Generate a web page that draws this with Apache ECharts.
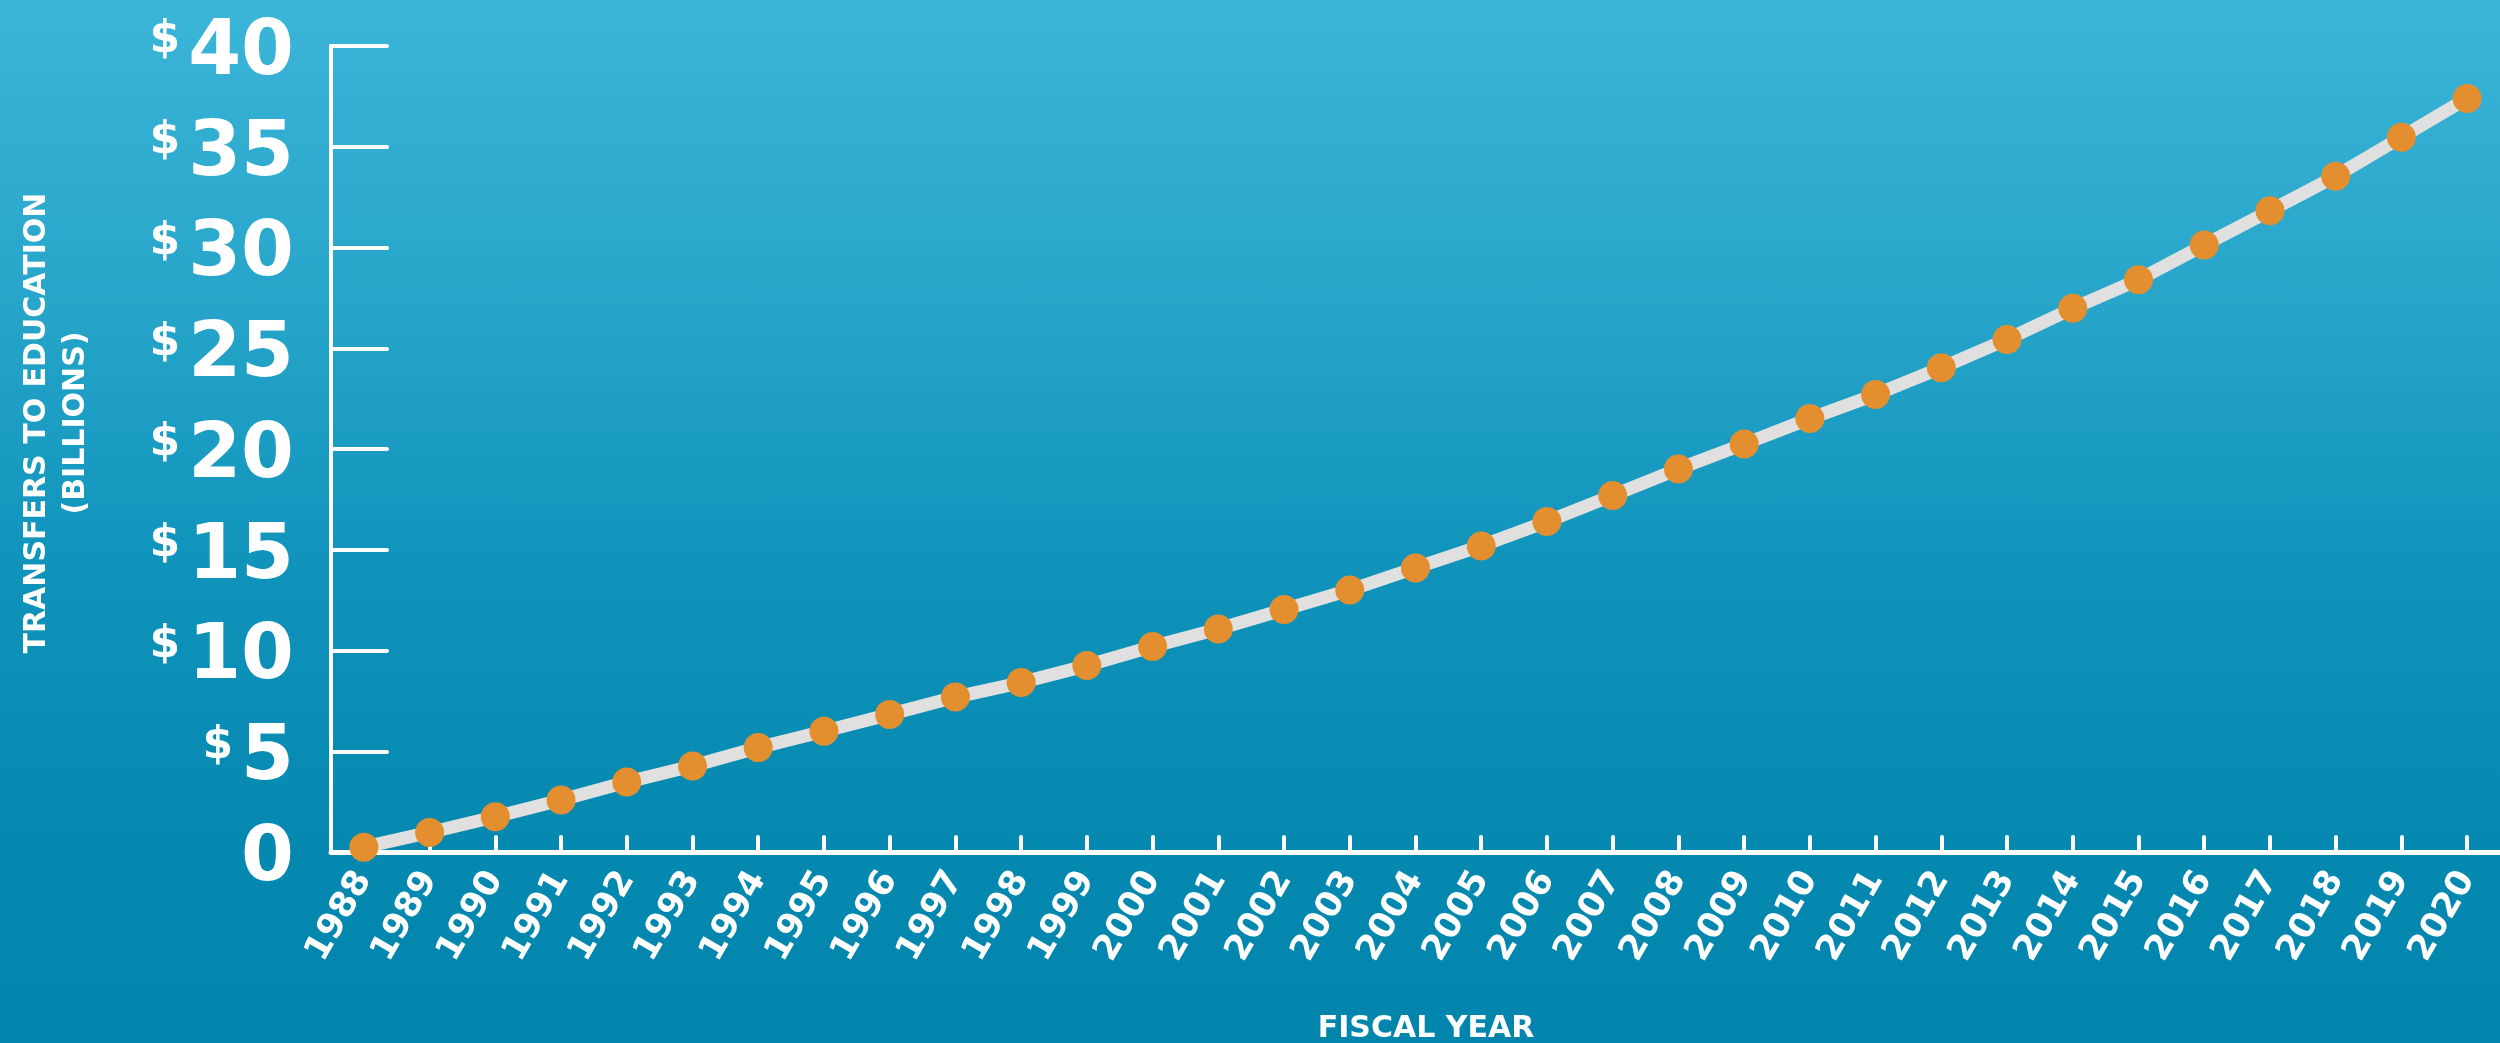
<!DOCTYPE html>
<html>
<head>
<meta charset="utf-8">
<script src="https://cdn.jsdelivr.net/npm/echarts@6/dist/echarts.min.js"></script>
<style>
html,body{margin:0;padding:0;overflow:hidden;}
#c{width:2500px;height:1043px;background:linear-gradient(to bottom,#3bb5d8 0%,#26a4c9 30%,#0f93bb 55%,#0589b1 80%,#0285ad 100%);}
</style>
</head>
<body>
<div id="c"></div>
<script>
const years = ['1988','1989','1990','1991','1992','1993','1994','1995','1996','1997','1998',
  '1999','2000','2001','2002','2003','2004','2005','2006','2007','2008','2009','2010',
  '2011','2012','2013','2014','2015','2016','2017','2018','2019','2020'];
const transfers = [0.24,0.97,1.75,2.58,3.47,4.27,5.18,5.99,6.83,7.69,8.41,
  9.25,10.2,11.07,12.03,13.0,14.1,15.19,16.4,17.69,19.01,20.25,21.51,
  22.7,24.03,25.44,26.98,28.4,30.12,31.82,33.54,35.47,37.4];
const yMin = 0, yMax = 40, yStep = 5;
const yTitle = ['TRANSFERS TO EDUCATION', '(BILLIONS)'];
const xTitle = 'FISCAL YEAR';

const FONT = '"DejaVu Sans", sans-serif';
const chart = echarts.init(document.getElementById('c'), null, {renderer: 'canvas'});
chart.setOption({
  animation: false,
  grid: {left: 331, top: 46, width: 2181, bottom: 191, containLabel: false},
  xAxis: {
    type: 'category',
    data: years,
    boundaryGap: true,
    axisLine: {show: true, lineStyle: {color: '#ffffff', width: 5}},
    axisTick: {show: true, inside: true, alignWithLabel: true, length: 15,
      lineStyle: {color: '#ffffff', width: 4, cap: 'round'}},
    axisLabel: {show: true, interval: 0, rotate: 60, margin: 22, color: '#ffffff',
      fontFamily: FONT, fontWeight: 'bold', fontSize: 35},
    splitLine: {show: false}
  },
  yAxis: {
    type: 'value',
    min: yMin, max: yMax, interval: yStep,
    axisLine: {show: true, lineStyle: {color: '#ffffff', width: 4}},
    axisTick: {show: true, inside: true, length: 56,
      lineStyle: {color: '#ffffff', width: 4, cap: 'round'}},
    splitLine: {show: false},
    axisLabel: {
      show: true, margin: 37,
      formatter: function (v) { return v === 0 ? '{n|0}' : '{d|$}{n|' + v + '}'; },
      rich: {
        d: {color: '#ffffff', fontFamily: FONT, fontWeight: 'bold', fontSize: 44,
            verticalAlign: 'middle', lineHeight: 44, padding: [0, 8, 10, 0]},
        n: {color: '#ffffff', fontFamily: FONT, fontWeight: 'bold', fontSize: 76,
            lineHeight: 80, padding: [16, 0, 0, 0]}
      }
    }
  },
  series: [{
    type: 'line',
    data: transfers,
    clip: false,
    symbol: 'circle',
    symbolSize: 29,
    lineStyle: {color: '#e0e0e0', width: 13},
    itemStyle: {color: '#e38f2f', borderWidth: 0},
    z: 3
  }],
  graphic: [
    {type: 'text', x: 37, y: 423, rotation: Math.PI / 2,
      style: {text: yTitle[0], fill: '#ffffff', font: 'bold 30px ' + FONT, align: 'center', verticalAlign: 'middle'}},
    {type: 'text', x: 76, y: 423, rotation: Math.PI / 2,
      style: {text: yTitle[1], fill: '#ffffff', font: 'bold 30px ' + FONT, align: 'center', verticalAlign: 'middle'}},
    {type: 'text', x: 1426, y: 1029,
      style: {text: xTitle, fill: '#ffffff', font: 'bold 30px ' + FONT, align: 'center', verticalAlign: 'middle'}}
  ]
});
</script>
</body>
</html>
